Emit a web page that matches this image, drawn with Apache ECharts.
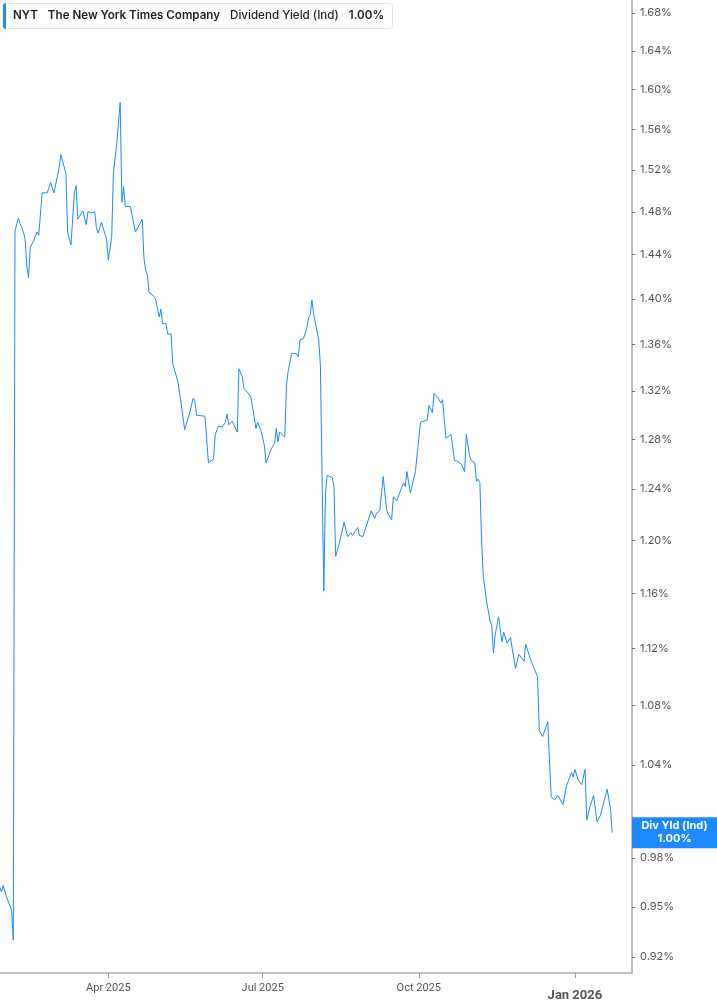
<!DOCTYPE html>
<html>
	<head>
		<meta charset="utf-8">
		<title>NYT Dividend Yield</title>
		<style type="text/css">
			* {
				margin: 0;
				padding: 0;
			}

			html, body {
				background: #fff;
			}

			#chart {
				width: 717px;
				height: 1005px;
			}
		</style>
		<script src="https://cdn.jsdelivr.net/npm/echarts@6/dist/echarts.min.js"></script>
	</head>
	<body>
		<div id="chart"></div>
	</body>
	<script type="text/javascript">
		// trading days
		var dates = [
			'2025-01-27', '2025-01-28', '2025-01-29', '2025-01-31', '2025-02-03', '2025-02-04', '2025-02-05', '2025-02-06',
			'2025-02-07', '2025-02-08', '2025-02-10', '2025-02-11', '2025-02-12', '2025-02-13', '2025-02-14', '2025-02-16',
			'2025-02-18', '2025-02-19', '2025-02-21', '2025-02-24', '2025-02-26', '2025-02-28', '2025-03-03', '2025-03-04',
			'2025-03-05', '2025-03-07', '2025-03-08', '2025-03-10', '2025-03-12', '2025-03-13', '2025-03-14', '2025-03-17',
			'2025-03-19', '2025-03-20', '2025-03-22', '2025-03-24', '2025-03-25', '2025-03-26', '2025-03-28', '2025-03-29',
			'2025-03-31', '2025-04-01', '2025-04-03', '2025-04-04', '2025-04-06', '2025-04-08', '2025-04-09', '2025-04-10',
			'2025-04-11', '2025-04-14', '2025-04-15', '2025-04-16', '2025-04-17', '2025-04-21', '2025-04-22', '2025-04-23',
			'2025-04-24', '2025-04-25', '2025-04-28', '2025-04-29', '2025-04-30', '2025-05-01', '2025-05-02', '2025-05-03',
			'2025-05-05', '2025-05-06', '2025-05-08', '2025-05-09', '2025-05-11', '2025-05-12', '2025-05-14', '2025-05-16',
			'2025-05-19', '2025-05-20', '2025-05-21', '2025-05-22', '2025-05-23', '2025-05-28', '2025-05-30', '2025-06-02',
			'2025-06-03', '2025-06-05', '2025-06-07', '2025-06-09', '2025-06-10', '2025-06-11', '2025-06-13', '2025-06-14',
			'2025-06-16', '2025-06-17', '2025-06-19', '2025-06-20', '2025-06-22', '2025-06-24', '2025-06-26', '2025-06-27',
			'2025-06-28', '2025-06-30', '2025-07-02', '2025-07-03', '2025-07-06', '2025-07-08', '2025-07-09', '2025-07-10',
			'2025-07-11', '2025-07-14', '2025-07-15', '2025-07-16', '2025-07-17', '2025-07-18', '2025-07-21', '2025-07-22',
			'2025-07-23', '2025-07-25', '2025-07-27', '2025-07-28', '2025-07-29', '2025-07-30', '2025-07-31', '2025-08-03',
			'2025-08-04', '2025-08-05', '2025-08-06', '2025-08-07', '2025-08-08', '2025-08-11', '2025-08-12', '2025-08-13',
			'2025-08-15', '2025-08-16', '2025-08-18', '2025-08-20', '2025-08-22', '2025-08-23', '2025-08-26', '2025-08-27',
			'2025-08-29', '2025-09-03', '2025-09-05', '2025-09-06', '2025-09-08', '2025-09-10', '2025-09-12', '2025-09-13',
			'2025-09-15', '2025-09-16', '2025-09-18', '2025-09-19', '2025-09-22', '2025-09-23', '2025-09-24', '2025-09-26',
			'2025-09-29', '2025-09-30', '2025-10-02', '2025-10-04', '2025-10-06', '2025-10-07', '2025-10-09', '2025-10-10',
			'2025-10-12', '2025-10-14', '2025-10-15', '2025-10-17', '2025-10-20', '2025-10-21', '2025-10-22', '2025-10-24',
			'2025-10-26', '2025-10-28', '2025-10-29', '2025-10-31', '2025-11-01', '2025-11-03', '2025-11-04', '2025-11-05',
			'2025-11-06', '2025-11-07', '2025-11-08', '2025-11-10', '2025-11-12', '2025-11-13', '2025-11-14', '2025-11-15',
			'2025-11-17', '2025-11-19', '2025-11-20', '2025-11-22', '2025-11-24', '2025-11-27', '2025-11-29', '2025-12-02',
			'2025-12-03', '2025-12-04', '2025-12-06', '2025-12-08', '2025-12-10', '2025-12-11', '2025-12-13', '2025-12-16',
			'2025-12-18', '2025-12-20', '2025-12-22', '2025-12-25', '2025-12-27', '2025-12-30', '2025-12-31', '2026-01-01',
			'2026-01-03', '2026-01-05', '2026-01-07', '2026-01-08', '2026-01-10', '2026-01-12', '2026-01-14', '2026-01-16',
			'2026-01-20', '2026-01-22', '2026-01-23'
		];
		// dividend yield in %
		var yields = [
			0.962, 0.959, 0.963, 0.956, 0.948, 0.930, 1.462, 1.463,
			1.474, 1.469, 1.461, 1.454, 1.429, 1.419, 1.447, 1.453,
			1.461, 1.458, 1.498, 1.498, 1.508, 1.498, 1.522, 1.535,
			1.534, 1.517, 1.461, 1.449, 1.498, 1.505, 1.473, 1.481,
			1.468, 1.480, 1.479, 1.480, 1.465, 1.460, 1.470, 1.469,
			1.454, 1.435, 1.456, 1.517, 1.546, 1.587, 1.489, 1.504,
			1.485, 1.485, 1.477, 1.476, 1.461, 1.473, 1.437, 1.426,
			1.422, 1.406, 1.402, 1.399, 1.391, 1.384, 1.391, 1.378,
			1.378, 1.369, 1.369, 1.343, 1.333, 1.328, 1.309, 1.288,
			1.302, 1.301, 1.314, 1.312, 1.300, 1.299, 1.261, 1.264,
			1.284, 1.291, 1.290, 1.294, 1.301, 1.292, 1.295, 1.292,
			1.286, 1.339, 1.332, 1.322, 1.319, 1.315, 1.298, 1.289,
			1.294, 1.287, 1.275, 1.261, 1.272, 1.277, 1.289, 1.278,
			1.286, 1.282, 1.325, 1.337, 1.338, 1.352, 1.352, 1.349,
			1.364, 1.365, 1.374, 1.383, 1.386, 1.399, 1.387, 1.364,
			1.342, 1.343, 1.162, 1.237, 1.251, 1.249, 1.242, 1.188,
			1.197, 1.197, 1.214, 1.203, 1.206, 1.204, 1.210, 1.204,
			1.203, 1.223, 1.217, 1.221, 1.223, 1.250, 1.224, 1.220,
			1.216, 1.234, 1.231, 1.232, 1.245, 1.242, 1.254, 1.237,
			1.254, 1.255, 1.294, 1.295, 1.296, 1.308, 1.302, 1.318,
			1.315, 1.310, 1.313, 1.281, 1.284, 1.283, 1.263, 1.262,
			1.260, 1.254, 1.284, 1.266, 1.263, 1.261, 1.246, 1.248,
			1.245, 1.200, 1.173, 1.154, 1.140, 1.137, 1.117, 1.130,
			1.143, 1.125, 1.132, 1.124, 1.128, 1.106, 1.116, 1.111,
			1.123, 1.123, 1.112, 1.106, 1.100, 1.063, 1.059, 1.069,
			1.019, 1.017, 1.020, 1.014, 1.026, 1.035, 1.032, 1.037,
			1.030, 1.027, 1.037, 1.004, 1.013, 1.020, 1.003, 1.007,
			1.024, 1.011, 0.996
		];
		var yTicks = [0.92, 0.95, 0.98, 1.00, 1.04, 1.08, 1.12, 1.16, 1.20, 1.24, 1.28,
			1.32, 1.36, 1.40, 1.44, 1.48, 1.52, 1.56, 1.60, 1.64, 1.68];
		var xTickDates = ['2025-04-01', '2025-07-01', '2025-10-01', '2026-01-01'];
		var xTickLabels = ['Apr 2025', 'Jul 2025', 'Oct 2025', 'Jan 2026'];

		var chart = echarts.init(document.getElementById('chart'));

		function ms(d) {
			return +echarts.time.parse(d);
		}
		var seriesData = [];
		for (var i = 0; i < dates.length; i++) {
			seriesData.push([ms(dates[i]), yields[i]]);
		}
		var lastYield = yields[yields.length - 1];
		var xTickMs = xTickDates.map(ms);

		var option = {
			animation: false,
			backgroundColor: '#fff',
			title: {
				left: 3,
				top: 3,
				padding: [0, 9, 0, 0],
				backgroundColor: '#fff',
				borderColor: '#e3e3e6',
				borderWidth: 1,
				borderRadius: 3,
				text: '{bar|}{f|NYT}{b|The New York Times Company}{n|Dividend Yield (Ind)}{b|' +
					lastYield.toFixed(2) + '%}',
				textStyle: {
					rich: {
						bar: {
							backgroundColor: '#1e88ff',
							width: 3,
							height: 26,
							borderRadius: [3, 0, 0, 3]
						},
						f: {
							fontFamily: 'Inter',
							fontSize: 11.6,
							fontWeight: 600,
							color: '#1c1c28',
							padding: [0, 0, 0, 7]
						},
						b: {
							fontFamily: 'Inter',
							fontSize: 11.6,
							fontWeight: 600,
							color: '#1c1c28',
							padding: [0, 0, 0, 10]
						},
						n: {
							fontFamily: 'Inter',
							fontSize: 11.6,
							fontWeight: 500,
							color: '#1c1c28',
							padding: [0, 0, 0, 10]
						}
					}
				}
			},
			grid: {
				left: 0,
				right: 85,
				top: 0,
				bottom: 32
			},
			xAxis: {
				// timestamps on a plain value scale
				type: 'value',
				min: ms('2025-01-27 04:00'),
				max: ms('2026-02-03 15:40'),
				axisLine: {
					lineStyle: {
						color: '#aaaaaa',
						width: 1.5
					}
				},
				axisTick: {
					customValues: xTickMs,
					length: 5,
					lineStyle: {
						color: '#999'
					}
				},
				axisLabel: {
					customValues: xTickMs,
					margin: 10,
					color: '#555',
					fontFamily: 'Roboto',
					fontSize: 11,
					formatter: function(v) {
						var k = xTickMs.indexOf(+v);
						var s = k >= 0 ? xTickLabels[k] : '';
						// the year change gets the bold label
						return s.indexOf('Jan') === 0 ? '{y|' + s + '}' : s;
					},
					rich: {
						y: {
							fontFamily: 'Roboto',
							fontSize: 13,
							fontWeight: 'bold',
							color: '#555',
							padding: [6, 0, 0, 0]
						}
					}
				},
				splitLine: {
					show: false
				}
			},
			yAxis: {
				type: 'log',
				logBase: 10,
				position: 'right',
				min: 0.9107,
				max: 1.6941,
				axisLine: {
					show: true,
					lineStyle: {
						color: '#aaaaaa',
						width: 1.5
					}
				},
				axisTick: {
					show: true,
					customValues: yTicks,
					length: 3,
					lineStyle: {
						color: '#666'
					}
				},
				axisLabel: {
					customValues: yTicks,
					margin: 8,
					color: '#555',
					fontFamily: 'Inter',
					fontSize: 11,
					formatter: function(v) {
						return (+v).toFixed(2) + '%';
					}
				},
				splitLine: {
					show: false
				}
			},
			series: [{
				name: 'Div Yld (Ind)',
				type: 'line',
				data: seriesData,
				showSymbol: false,
				symbol: 'none',
				lineStyle: {
					color: '#1e88ff',
					width: 1
				},
				itemStyle: {
					color: '#1e88ff'
				},
				// last value tag on the axis
				markLine: {
					silent: true,
					precision: 4,
					symbol: ['none', 'none'],
					lineStyle: {
						color: 'rgba(0,0,0,0)',
						width: 0,
						type: 'solid'
					},
					label: {
						show: true,
						opacity: 1,
						position: 'end',
						distance: 0,
						padding: [2, 0, 3, 0],
						backgroundColor: '#1e88ff',
						formatter: function() {
							return '{a|Div Yld (Ind)}\n{a|' + lastYield.toFixed(2) + '%}';
						},
						rich: {
							a: {
								width: 85,
								align: 'center',
								color: '#fff',
								fontFamily: 'Inter',
								fontSize: 11,
								fontWeight: 'bold',
								lineHeight: 13
							}
						}
					},
					data: [{
						yAxis: lastYield
					}]
				}
			}]
		};
		chart.setOption(option);
	</script>
</html>
